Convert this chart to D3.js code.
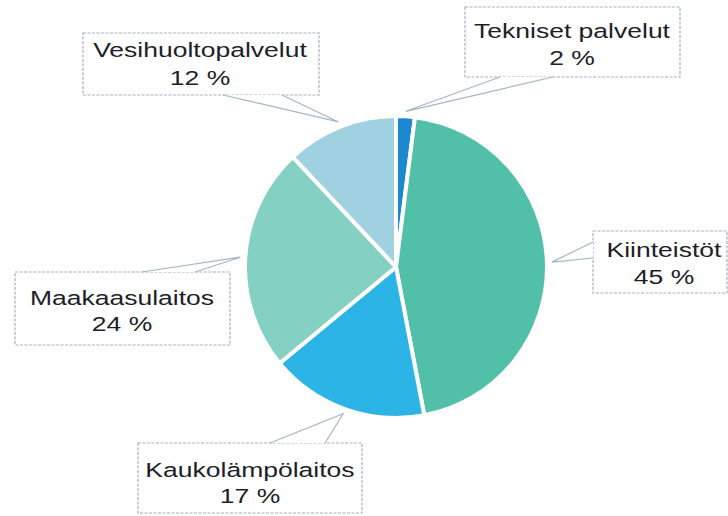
<!DOCTYPE html>
<html>
<head>
<meta charset="utf-8">
<script src="https://cdn.jsdelivr.net/npm/d3@7"></script>
<style>
  html, body { margin: 0; padding: 0; background: #fff; }
  svg { display: block; }
  text { font-family: "Liberation Sans", Arial, sans-serif; fill: #1e1e28; }
</style>
</head>
<body>
<svg id="chart" width="728" height="516"></svg>
<script>
// ---- data ----
const categories = ["Tekniset palvelut", "Kiinteistöt", "Kaukolämpölaitos", "Maakaasulaitos", "Vesihuoltopalvelut"];
const values = [2, 45, 17, 24, 12];
const percentLabels = ["2 %", "45 %", "17 %", "24 %", "12 %"];
const colors = ["#1b88d0", "#52c0a8", "#2cb4e7", "#84d1c3", "#a0d1e0"];

// ---- layout (label boxes and pointer bases) ----
const boxes = [
  { x0: 465, y0: 7,   x1: 680, y1: 77,  base: [[500, 77], [553, 77]],   cx: 572, b1: 38,  b2: 65 },
  { x0: 593, y0: 231, x1: 727, y1: 293, base: [[593, 242], [593, 258]], cx: 664, b1: 257, b2: 284 },
  { x0: 138, y0: 443, x1: 362, y1: 513, base: [[270, 443], [325, 443]], cx: 250, b1: 477, b2: 503 },
  { x0: 15,  y0: 272, x1: 230, y1: 345, base: [[142, 272], [195, 272]], cx: 122, b1: 305, b2: 331 },
  { x0: 83,  y0: 33,  x1: 319, y1: 95,  base: [[223, 95], [282, 95]],   cx: 200, b1: 57,  b2: 85 }
];

const svg = d3.select("#chart");
const cx = 396, cy = 267, r = 151;

const pie = d3.pie().sort(null).value(d => d)(values);
const arc = d3.arc().innerRadius(0).outerRadius(r);
const tipArc = d3.arc().innerRadius(r + 5).outerRadius(r + 5);

const g = svg.append("g").attr("transform", `translate(${cx},${cy})`);
g.selectAll("path.slice")
  .data(pie)
  .enter().append("path")
  .attr("class", "slice")
  .attr("d", arc)
  .attr("fill", (d, i) => colors[i])
  .attr("stroke", "#fff")
  .attr("stroke-width", 4)
  .attr("stroke-linejoin", "round");

// ---- labels ----
const lab = svg.append("g");
pie.forEach((d, i) => {
  const b = boxes[i];
  const t = tipArc.centroid(d);
  const tip = [cx + t[0], cy + t[1]];
  const gg = lab.append("g");
  gg.append("rect")
    .attr("x", b.x0).attr("y", b.y0)
    .attr("width", b.x1 - b.x0).attr("height", b.y1 - b.y0)
    .attr("fill", "#fff")
    .attr("stroke", "#a4afbd")
    .attr("stroke-width", 1.2)
    .attr("stroke-dasharray", "3,1.5");
  gg.append("path")
    .attr("d", d3.line()([b.base[0], tip, b.base[1]]) + "Z")
    .attr("fill", "#fff")
    .attr("stroke", "none");
  gg.append("path")
    .attr("d", d3.line()([b.base[0], tip, b.base[1]]))
    .attr("fill", "none")
    .attr("stroke", "#a3b6c8")
    .attr("stroke-width", 1.2);
  gg.append("text")
    .attr("transform", `translate(${b.cx},${b.b1}) scale(1.36,1)`)
    .attr("text-anchor", "middle")
    .attr("font-size", 19.5)
    .text(categories[i]);
  gg.append("text")
    .attr("transform", `translate(${b.cx},${b.b2}) scale(1.36,1)`)
    .attr("text-anchor", "middle")
    .attr("font-size", 19.5)
    .text(percentLabels[i]);
});
</script>
</body>
</html>
